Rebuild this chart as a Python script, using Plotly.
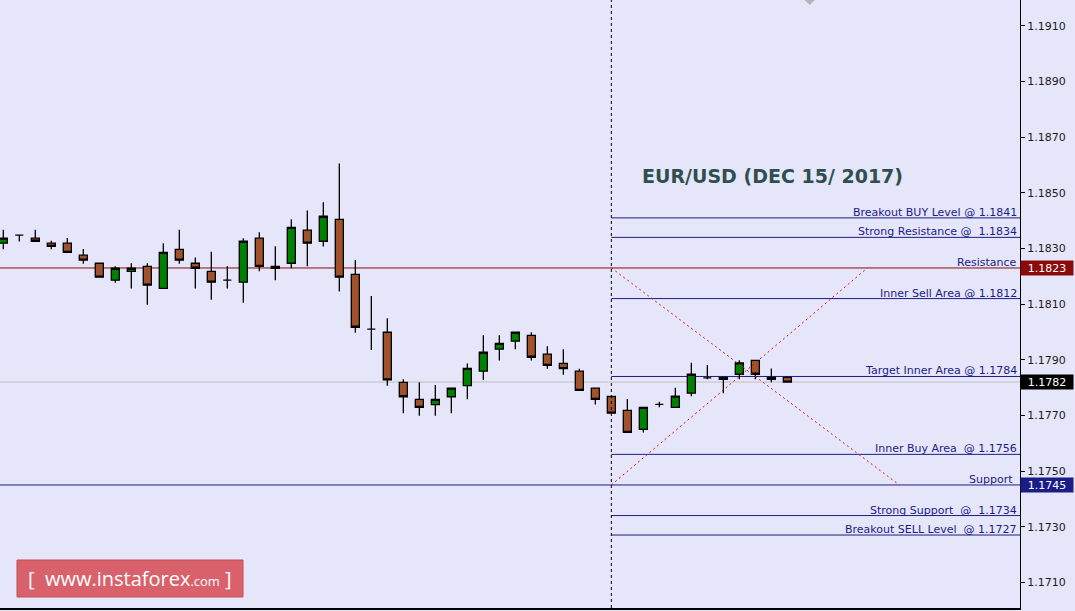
import plotly.graph_objects as go

# ---- candle data (EUR/USD, H-bars) ----
opens = [1.18319, 1.18348, 1.18337, 1.18319, 1.18319, 1.18276, 1.18247, 1.18186, 1.18218, 1.18236,
         1.18157, 1.18297, 1.18247, 1.18218, 1.18186, 1.18179, 1.18337, 1.18229, 1.18247, 1.18366,
         1.18326, 1.18405, 1.18207, 1.18010, 1.17999, 1.17819, 1.17758, 1.17739, 1.17767, 1.17807,
         1.17859, 1.17938, 1.17967, 1.17988, 1.17920, 1.17887, 1.17859, 1.17798, 1.17768, 1.17718,
         1.17650, 1.17740, 1.17729, 1.17780, 1.17835, 1.17830, 1.17848, 1.17898, 1.17837, 1.17837]
highs = [1.18367, 1.18348, 1.18367, 1.18328, 1.18338, 1.18298, 1.18247, 1.18236, 1.18247, 1.18247,
         1.18319, 1.18367, 1.18268, 1.18288, 1.18236, 1.18337, 1.18358, 1.18308, 1.18405, 1.18437,
         1.18466, 1.18606, 1.18259, 1.18129, 1.18049, 1.17830, 1.17819, 1.17809, 1.17798, 1.17887,
         1.17988, 1.17988, 1.17999, 1.17999, 1.17949, 1.17938, 1.17868, 1.17798, 1.17768, 1.17759,
         1.17729, 1.17749, 1.17799, 1.17889, 1.17881, 1.17837, 1.17898, 1.17898, 1.17869, 1.17837]
lows = [1.18297, 1.18325, 1.18323, 1.18297, 1.18286, 1.18245, 1.18197, 1.18177, 1.18156, 1.18098,
        1.18157, 1.18245, 1.18156, 1.18116, 1.18156, 1.18105, 1.18218, 1.18186, 1.18229, 1.18236,
        1.18307, 1.18145, 1.17997, 1.17935, 1.17807, 1.17708, 1.17699, 1.17699, 1.17708, 1.17758,
        1.17827, 1.17897, 1.17938, 1.17897, 1.17868, 1.17846, 1.17790, 1.17739, 1.17708, 1.17639,
        1.17639, 1.17729, 1.17729, 1.17769, 1.17830, 1.17780, 1.17830, 1.17830, 1.17819, 1.17820]
closes = [1.18337, 1.18348, 1.18326, 1.18308, 1.18286, 1.18258, 1.18197, 1.18229, 1.18229, 1.18168,
          1.18286, 1.18258, 1.18229, 1.18179, 1.18186, 1.18326, 1.18236, 1.18236, 1.18376, 1.18319,
          1.18416, 1.18197, 1.18017, 1.18010, 1.17828, 1.17767, 1.17729, 1.17758, 1.17798, 1.17869,
          1.17927, 1.17959, 1.17999, 1.17909, 1.17880, 1.17868, 1.17790, 1.17758, 1.17708, 1.17639,
          1.17729, 1.17740, 1.17769, 1.17848, 1.17835, 1.17837, 1.17889, 1.17848, 1.17830, 1.17820]
bar_index = list(range(len(opens)))

# ---- levels ----
level_labels = ["Breakout BUY Level @ 1.1841", "Strong Resistance @  1.1834",
                "Inner Sell Area @ 1.1812", "Target Inner Area @ 1.1784",
                "Inner Buy Area  @ 1.1756", "Strong Support  @  1.1734",
                "Breakout SELL Level  @ 1.1727"]
level_values = [1.1841, 1.1834, 1.1812, 1.1784, 1.1756, 1.1734, 1.1727]
resistance = 1.1823
support = 1.1745
last_price = 1.1782
tick_values = [1.1710, 1.1730, 1.1750, 1.1770, 1.1790, 1.1810, 1.1830, 1.1850, 1.1870, 1.1890, 1.1910]

start_bar = 38          # vertical separator bar
x_range = [-0.206, 63.54]
y_range = [1.170077, 1.191933]

NAVY = "#1c1c86"
DARKRED = "#8b0a0a"

fig = go.Figure()
fig.add_trace(go.Candlestick(
    x=bar_index, open=opens, high=highs, low=lows, close=closes,
    increasing=dict(fillcolor="#008000", line=dict(color="black", width=1.3)),
    decreasing=dict(fillcolor="#A0522D", line=dict(color="black", width=1.3)),
    whiskerwidth=0, showlegend=False, hoverinfo="skip"))

# grey marker at top (chart object)
fig.add_trace(go.Scatter(x=[50.4], y=[y_range[1] + 0.00010], mode="markers",
                         marker=dict(symbol="diamond", size=12, color="#b4b4b4"),
                         cliponaxis=True, showlegend=False, hoverinfo="skip"))

shapes = []
# full-width lines
shapes.append(dict(type="line", xref="paper", yref="y", x0=0, x1=1, y0=last_price, y1=last_price,
                   line=dict(color="#c0c0c0", width=1), layer="below"))
shapes.append(dict(type="line", xref="paper", yref="y", x0=0, x1=1, y0=resistance, y1=resistance,
                   line=dict(color=DARKRED, width=1), layer="below"))
shapes.append(dict(type="line", xref="paper", yref="y", x0=0, x1=1, y0=support, y1=support,
                   line=dict(color=NAVY, width=1), layer="below"))
# partial levels
for v in level_values:
    shapes.append(dict(type="line", xref="x", yref="y", x0=start_bar, x1=x_range[1], y0=v, y1=v,
                       line=dict(color=NAVY, width=1), layer="below"))
# vertical dotted separator
shapes.append(dict(type="line", xref="x", yref="paper", x0=start_bar, x1=start_bar, y0=0, y1=1,
                   line=dict(color="black", width=1, dash="3px,3px")))
# red diagonal X
shapes.append(dict(type="line", xref="x", yref="y", x0=start_bar, x1=56, y0=resistance, y1=support,
                   line=dict(color="#e01010", width=1, dash="2px,3px")))
shapes.append(dict(type="line", xref="x", yref="y", x0=start_bar, x1=54, y0=support, y1=resistance,
                   line=dict(color="#e01010", width=1, dash="2px,3px")))
# logo box
shapes.append(dict(type="rect", xref="paper", yref="paper", x0=17 / 1020, x1=243 / 1020,
                   y0=1 - 597 / 608, y1=1 - 560 / 608, fillcolor="#d9616b",
                   line=dict(color="#c24f58", width=1)))

annotations = []
for lab, v in zip(level_labels, level_values):
    annotations.append(dict(x=1, xref="paper", y=v, yref="y", text=lab, showarrow=False,
                            xanchor="right", yanchor="bottom", xshift=-1, yshift=-3,
                            font=dict(family="DejaVu Sans", size=11, color=NAVY)))
annotations.append(dict(x=1, xref="paper", y=resistance, yref="y", text="Resistance", showarrow=False,
                        xanchor="right", yanchor="bottom", xshift=-1, yshift=-3,
                        font=dict(family="DejaVu Sans", size=11, color=NAVY)))
annotations.append(dict(x=1, xref="paper", y=support, yref="y", text="Support", showarrow=False,
                        xanchor="right", yanchor="bottom", xshift=-5, yshift=-3,
                        font=dict(family="DejaVu Sans", size=11, color=NAVY)))
# price tags
for v, bg in [(resistance, DARKRED), (last_price, "black"), (support, NAVY)]:
    annotations.append(dict(x=1, xref="paper", y=v, yref="y", text=f"{v:.4f}", showarrow=False,
                            xanchor="left", yanchor="middle", xshift=0, width=50, height=12,
                            bgcolor=bg, borderpad=1, align="center",
                            font=dict(family="DejaVu Sans", size=11, color="white")))
# title
annotations.append(dict(x=772 / 1020, xref="paper", y=1 - 176 / 608, yref="paper",
                        text="<b>EUR/USD (DEC 15/ 2017)</b>", showarrow=False,
                        xanchor="center", yanchor="middle",
                        font=dict(family="DejaVu Sans", size=19, color="#2f4f4f")))
# logo text
annotations.append(dict(x=130 / 1020, xref="paper", y=1 - 578 / 608, yref="paper",
                        text="[  www.instaforex<span style='font-size:13px'>.com</span> ]",
                        showarrow=False, xanchor="center", yanchor="middle",
                        font=dict(family="Open Sans", size=20, color="white")))

fig.update_layout(
    width=1075, height=611,
    margin=dict(l=0, r=55, t=0, b=3),
    paper_bgcolor="#e6e6fa", plot_bgcolor="#e6e6fa",
    shapes=shapes, annotations=annotations,
    showlegend=False, boxgap=0.28,
    xaxis=dict(range=x_range, showgrid=False, zeroline=False, showticklabels=False,
               rangeslider=dict(visible=False), showline=True, linecolor="black", linewidth=2,
               fixedrange=True),
    yaxis=dict(range=y_range, side="right", showgrid=False, zeroline=False,
               tickvals=tick_values, tickformat=".4f", ticks="outside", ticklen=4,
               tickcolor="black", showline=True, linecolor="black", linewidth=1,
               tickfont=dict(family="DejaVu Sans", size=11, color="#1a1a1a")),
)

fig.write_html("out.html", config={"displayModeBar": False},
               post_script="document.body.style.margin='0';document.body.style.overflow='hidden';")
